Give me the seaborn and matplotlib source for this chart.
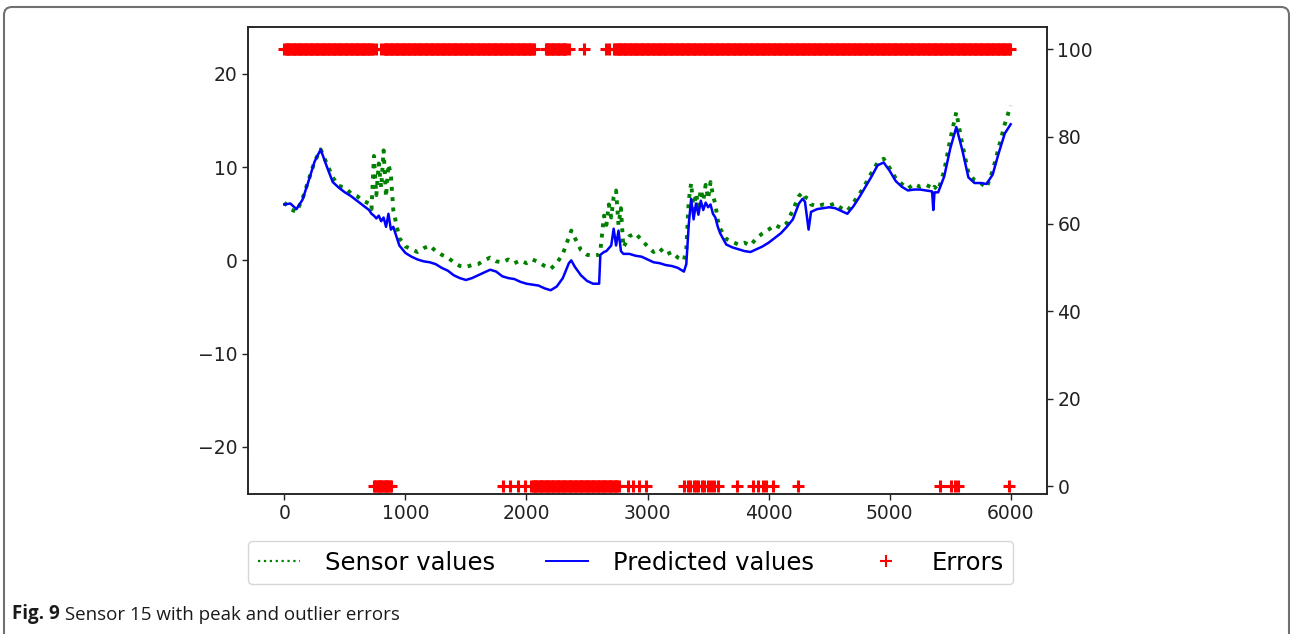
import numpy as np
import pandas as pd
import matplotlib
matplotlib.use("Agg")
import matplotlib.pyplot as plt
import seaborn as sns
from matplotlib.lines import Line2D
from matplotlib.patches import FancyBboxPatch
from matplotlib.transforms import IdentityTransform

plt.rcParams["font.family"] = ["DejaVu Sans"]

# ---- sample index and sensor / model readings ----
sample_idx = [
    0, 50, 100, 150, 200, 250, 300, 350, 400, 450, 500, 550, 600, 650, 700,
    720, 740, 760, 780, 800, 820, 840, 860, 880, 900, 950,
    1000, 1050, 1100, 1150, 1200, 1250, 1300, 1350, 1400, 1450, 1500, 1550,
    1600, 1650, 1700, 1750, 1800, 1850, 1900, 1950, 2000, 2050, 2100, 2150,
    2200, 2250, 2300, 2350, 2370, 2400, 2450, 2500, 2550, 2600,
    2610, 2640, 2660, 2680, 2700, 2720, 2740, 2760, 2780, 2800, 2850, 2900,
    2950, 3000, 3050, 3100, 3150, 3200, 3250, 3300,
    3320, 3340, 3360, 3380, 3400, 3420, 3440, 3460, 3480, 3500, 3520, 3540,
    3560, 3580, 3600, 3650, 3700, 3750, 3800, 3850, 3900, 3950, 4000, 4050,
    4100, 4150, 4200, 4250, 4280, 4300, 4330, 4350, 4400, 4450, 4500, 4550,
    4600, 4650, 4700, 4750, 4800, 4850, 4900, 4950, 5000, 5050, 5100, 5150,
    5200, 5250, 5300, 5350, 5360, 5370, 5400, 5450, 5500, 5550, 5600, 5650,
    5700, 5750, 5800, 5850, 5900, 5950, 5999,
]

sensor_values = [
    6.2, 5.5, 5.2, 6.6, 8.6, 10.6, 11.9, 10.4, 8.9, 8.0, 7.8, 7.2, 6.9, 6.4, 6.1,
    5.5, 11.2, 7.0, 10.4, 7.8, 11.8, 6.8, 10.3, 9.2, 5.4, 2.4,
    1.5, 1.2, 0.9, 1.3, 1.6, 1.0, 0.6, 0.3, -0.2, -0.6, -0.7, -0.5,
    -0.4, 0.0, 0.3, -0.1, -0.2, 0.1, -0.3, 0.0, -0.3, 0.1, -0.2, -0.6,
    -0.9, -0.3, 0.7, 2.5, 3.2, 2.4, 1.1, 0.6, 0.5, 0.6,
    1.0, 4.8, 3.8, 6.0, 4.6, 6.8, 7.5, 3.8, 5.6, 1.4, 2.6, 2.9,
    2.2, 1.5, 0.9, 1.3, 0.6, 0.9, 0.3, 0.0,
    1.2, 6.4, 8.3, 5.4, 7.2, 5.8, 7.6, 6.4, 8.1, 6.6, 8.4, 7.0,
    6.0, 4.3, 3.4, 2.3, 2.0, 1.7, 1.9, 1.6, 2.4, 2.9, 3.3, 3.8,
    3.5, 4.0, 5.4, 6.9, 7.3, 6.8, 6.6, 6.0, 5.8, 6.0, 5.9, 6.1,
    5.6, 5.3, 6.2, 7.1, 8.2, 9.4, 10.5, 10.9, 9.9, 8.8, 8.2, 7.7,
    8.2, 7.9, 8.1, 7.8, 7.6, 7.9, 7.5, 9.6, 13.0, 15.9, 12.4, 9.4,
    8.6, 8.3, 7.8, 9.6, 12.1, 14.6, 16.6,
]

predicted_values = [
    6.0, 6.1, 5.5, 6.5, 8.5, 10.6, 11.9, 10.1, 8.4, 7.8, 7.3, 6.9, 6.4, 5.9, 5.4,
    5.0, 4.8, 4.5, 4.8, 4.2, 4.6, 3.6, 5.0, 3.3, 3.6, 1.6,
    0.8, 0.4, 0.1, -0.1, -0.2, -0.4, -0.8, -1.1, -1.6, -1.9, -2.1, -1.9,
    -1.6, -1.3, -1.0, -1.2, -1.7, -1.9, -2.0, -2.3, -2.5, -2.6, -2.7, -3.0,
    -3.2, -2.8, -1.9, -0.3, 0.0, -0.7, -1.6, -2.2, -2.5, -2.5,
    0.6, 0.9, 1.0, 1.3, 1.6, 3.4, 1.6, 3.2, 1.0, 0.7, 0.7, 0.5,
    0.4, 0.1, -0.2, -0.3, -0.5, -0.6, -0.8, -1.2,
    -0.4, 3.8, 6.6, 4.4, 6.1, 4.9, 6.4, 5.4, 6.2, 5.7, 6.0, 5.0,
    4.6, 3.6, 2.9, 1.7, 1.4, 1.2, 1.0, 0.9, 1.2, 1.5, 1.9, 2.4,
    2.9, 3.6, 4.4, 6.1, 6.6, 6.3, 3.3, 5.2, 5.5, 5.6, 5.7, 5.6,
    5.3, 5.0, 5.8, 6.8, 7.9, 9.0, 10.2, 10.5, 9.6, 8.5, 7.9, 7.5,
    7.6, 7.6, 7.5, 7.4, 5.4, 7.3, 7.3, 9.0, 12.0, 14.3, 11.8, 8.9,
    8.3, 8.3, 8.2, 9.2, 11.5, 13.6, 14.6,
]

# ---- error flags (right axis): contiguous runs and isolated samples ----
error_high_runs = [(0, 730), (820, 2065), (2160, 2330), (2724, 5999)]
error_high_points = [760, 800, 2355, 2476, 2655, 2683]
error_low_runs = [(740, 885), (2040, 2760)]
error_low_points = [1810, 1860, 1930, 1990, 2840, 2880, 2930, 2990,
                    3300, 3330, 3350, 3380, 3400, 3420, 3450, 3470, 3500,
                    3520, 3550, 3580, 3739, 3870, 3910, 3950, 3980, 4040,
                    4246, 5416, 5510, 5540, 5560, 5985]
error_levels = [100, 0]

left_ticks = [-20, -10, 0, 10, 20]
right_ticks = [0, 20, 40, 60, 80, 100]
x_ticks = [0, 1000, 2000, 3000, 4000, 5000, 6000]
legend_labels = ["Sensor values", "Predicted values", "Errors"]
caption_bold = "Fig. 9"
caption_text = " Sensor 15 with peak and outlier errors"


def expand(runs, points):
    xs = []
    for a, b in runs:
        xs.extend(range(a, b + 1, 10))
    xs.extend(points)
    return xs


series = pd.DataFrame({"idx": sample_idx,
                       "sensor": sensor_values,
                       "predicted": predicted_values})

hi = expand(error_high_runs, error_high_points)
lo = expand(error_low_runs, error_low_points)
errors = pd.DataFrame({"idx": hi + lo,
                       "flag": [error_levels[0]] * len(hi) + [error_levels[1]] * len(lo)})

W, H = 1290, 634
fig = plt.figure(figsize=(W / 100, H / 100), dpi=100)
fig.patch.set_facecolor("white")

ax = fig.add_axes([248 / W, 1 - 493.5 / H, (1047 - 248) / W, (493.5 - 27.3) / H])

sns.lineplot(data=series, x="idx", y="sensor", ax=ax, color="green",
             linestyle=":", linewidth=2.8, estimator=None, sort=False)
sns.lineplot(data=series, x="idx", y="predicted", ax=ax, color="blue",
             linewidth=1.8, estimator=None, sort=False)

ax.set_xlim(-300, 6299)
ax.set_ylim(-25, 25)
ax.set_xticks(x_ticks)
ax.set_yticks(left_ticks)
ax.set_xlabel("")
ax.set_ylabel("")

ax2 = ax.twinx()
sns.scatterplot(data=errors, x="idx", y="flag", ax=ax2, marker="+",
                s=85, color="red", linewidth=2.2)
ax2.set_ylim(-1.7, 105)
ax2.set_yticks(right_ticks)
ax2.set_ylabel("")

for a in (ax, ax2):
    a.tick_params(labelsize=13.5, length=4, width=1.0, colors="#222222")
    for sp in a.spines.values():
        sp.set_linewidth(1.1)
        sp.set_color("#222222")

handles = [
    Line2D([], [], color="green", linestyle=":", linewidth=1.6),
    Line2D([], [], color="blue", linewidth=1.4),
    Line2D([], [], color="red", marker="+", linestyle="", markersize=9,
           markeredgewidth=1.5),
]
fig.legend(handles, legend_labels, loc="upper left",
           bbox_to_anchor=(248 / W, 1 - 541 / H), ncol=3, fontsize=17.5,
           frameon=True, borderaxespad=0, handlelength=1.75,
           handletextpad=1.0, columnspacing=2.1)

# figure frame with rounded top corners, open at the bottom edge
frame = FancyBboxPatch((4, -30), 1285, H - 7 + 30,
                       boxstyle="round,pad=0,rounding_size=8",
                       transform=IdentityTransform(), fill=False,
                       edgecolor="#707070", linewidth=1.5)
fig.add_artist(frame)

t1 = fig.text(12 / W, 1 - 619 / H, caption_bold, fontsize=13.5,
              fontweight="bold", family="Open Sans", va="baseline",
              color="#1a1a1a")
ax.annotate(caption_text, xy=(1, 0), xycoords=t1, va="bottom", ha="left",
            fontsize=13.5, family="Open Sans", color="#1a1a1a",
            annotation_clip=False)

fig.savefig("out.png", dpi=100, facecolor="white")
